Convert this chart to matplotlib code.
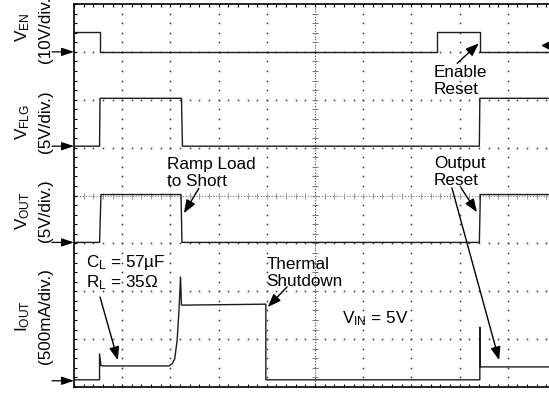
import numpy as np
import matplotlib

matplotlib.use("Agg")
import matplotlib.pyplot as plt

plt.rcParams["font.family"] = ["Liberation Sans", "DejaVu Sans"]
plt.rcParams["mathtext.fontset"] = "custom"
plt.rcParams["mathtext.rm"] = "Liberation Sans"
plt.rcParams["mathtext.it"] = "Liberation Sans"

# scope screen: 10 horizontal x 8 vertical divisions
N_XDIV, N_YDIV = 10, 8

# channel ground levels (divisions from bottom of the screen) and scales
VEN_GND, VEN_SCALE = 7.0, 10.0      # V/div
VFLG_GND, VFLG_SCALE = 5.03, 5.0    # V/div
VOUT_GND, VOUT_SCALE = 3.02, 5.0    # V/div
IOUT_GND, IOUT_SCALE = 0.13, 500.0  # mA/div

# traces, time in divisions
VEN_T = [0, 0.54, 0.54, 7.54, 7.54, 8.42, 8.42, 10]
VEN_V = [4.2, 4.2, 0, 0, 4.2, 4.2, 0, 0]

VFLG_T = [0, 0.53, 0.54, 2.23, 2.25, 8.41, 8.42, 10]
VFLG_V = [0, 0, 5, 5, 0, 0, 5, 5]

VOUT_T = [0, 0.53, 0.56, 2.22, 2.24, 8.41, 8.43, 10]
VOUT_V = [0, 0, 5, 5, 0, 0, 5, 5]

IOUT_T = [0, 0.53, 0.53, 0.56, 0.60, 1.97, 2.04, 2.09, 2.14, 2.18, 2.21,
          2.23, 3.98, 3.98, 8.42, 8.42, 8.43, 10]
IOUT_I = [10, 10, 280, 160, 155, 155, 180, 230, 425, 750, 1085,
          790, 800, 10, 10, 560, 145, 145]

TRACE = "#1c1c1c"
FS = 12.3
LINE_GAP = 0.355  # baseline-to-baseline spacing of two-line notes, in divisions


def to_screen(values, gnd, scale):
    return gnd + np.asarray(values, dtype=float) / scale


def note(ax, x, y, lines):
    for i, line in enumerate(lines):
        ax.text(x, y - i * LINE_GAP, line, fontsize=FS, ha="left", va="baseline")


fig = plt.figure(figsize=(5.49, 3.93), dpi=100)
ax = fig.add_axes([74 / 549, 6 / 393, 482 / 549, 383 / 393])
ax.set_xlim(0, N_XDIV)
ax.set_ylim(0, N_YDIV)

# graticule: dotted divisions, ticked centre lines
fine = np.arange(0, N_XDIV + 0.01, 0.2)
fine_y = np.arange(0, N_YDIV + 0.01, 0.2)
for gx in range(1, N_XDIV):
    if gx == 5:
        continue
    ax.plot(np.full_like(fine_y, gx), fine_y, ls="none", marker="s", ms=1.1,
            mew=0, color="#333333", zorder=1)
for gy in range(1, N_YDIV):
    if gy == 4:
        continue
    ax.plot(fine, np.full_like(fine, gy), ls="none", marker="s", ms=1.1,
            mew=0, color="#333333", zorder=1)
ax.axvline(5, ls=(0, (1, 1.5)), lw=0.8, color="#444444", zorder=1)
ax.axhline(4, ls=(0, (1, 1.5)), lw=0.8, color="#777777", zorder=1)
ax.plot(np.full_like(fine_y, 5), fine_y, ls="none", marker="_", ms=5,
        mew=0.7, color="#777777", zorder=1)
ax.plot(fine, np.full_like(fine, 4), ls="none", marker="|", ms=5,
        mew=0.7, color="#999999", zorder=1)

ax.set_xticks(fine, minor=True)
ax.set_yticks(fine_y, minor=True)
ax.set_xticks([])
ax.set_yticks([])
ax.tick_params(which="minor", direction="in", length=2.5, width=0.8,
               top=True, bottom=True, left=True, right=False,
               labelbottom=False, labelleft=False)
for side in ("left", "top", "bottom"):
    ax.spines[side].set_linewidth(1.2)
ax.spines["right"].set_visible(False)

# the four channels
ax.plot(VEN_T, to_screen(VEN_V, VEN_GND, VEN_SCALE), color=TRACE, lw=1.0, zorder=3)
ax.plot(VFLG_T, to_screen(VFLG_V, VFLG_GND, VFLG_SCALE), color=TRACE, lw=1.0, zorder=3)
ax.plot(VOUT_T, to_screen(VOUT_V, VOUT_GND, VOUT_SCALE), color=TRACE, lw=1.0, zorder=3)
ax.plot(IOUT_T, to_screen(IOUT_I, IOUT_GND, IOUT_SCALE), color=TRACE, lw=1.0, zorder=3)

# ground markers on the left edge
for gnd in (VEN_GND, VFLG_GND, VOUT_GND, IOUT_GND):
    ax.annotate("", xy=(0, gnd), xytext=(-22, 0), textcoords="offset pixels",
                annotation_clip=False,
                arrowprops=dict(arrowstyle="-|>,head_length=0.75,head_width=0.25",
                                mutation_scale=10, lw=0.9, color="black",
                                shrinkA=0, shrinkB=0))

# trigger level marker
ax.plot([9.83], [7.14], marker="<", ms=8, color="black", clip_on=False, zorder=4)

# channel labels
labels = [
    (r"$\mathregular{V_{EN}}$", "(10V/div.)", 27),
    (r"$\mathregular{V_{FLG}}$", "(5V/div.)", 122),
    (r"$\mathregular{V_{OUT}}$", "(5V/div.)", 211),
    (r"$\mathregular{I_{OUT}}$", "(500mA/div.)", 316),
]
for name, scale, ypx in labels:
    fig.text(27 / 549, 1 - ypx / 393, name, rotation=90, rotation_mode="anchor",
             ha="center", va="baseline", fontsize=FS)
    fig.text(50 / 549, 1 - ypx / 393, scale, rotation=90, rotation_mode="anchor",
             ha="center", va="baseline", fontsize=FS)

ARROW = dict(arrowstyle="-|>,head_length=0.8,head_width=0.3", mutation_scale=10,
             lw=1.0, color="black", shrinkA=0, shrinkB=0)

note(ax, 7.46, 6.47, ["Enable", "Reset"])
ax.annotate("", xy=(8.40, 7.18), xytext=(7.95, 6.76), arrowprops=ARROW)

note(ax, 1.92, 4.55, ["Ramp Load", "to Short"])
ax.annotate("", xy=(2.28, 3.63), xytext=(2.59, 4.15), arrowprops=ARROW)

note(ax, 7.47, 4.58, ["Output", "Reset"])
ax.annotate("", xy=(8.36, 3.65), xytext=(8.03, 4.16), arrowprops=ARROW)
ax.annotate("", xy=(8.82, 0.56), xytext=(7.84, 4.16), arrowprops=ARROW)

note(ax, 3.99, 2.46, ["Thermal", "Shutdown"])
ax.annotate("", xy=(4.02, 1.67), xytext=(4.42, 2.09), arrowprops=ARROW)

ax.text(5.55, 1.34, r"$\mathregular{V_{IN}}$ = 5V", fontsize=FS, ha="left",
        va="baseline")

ax.text(0.24, 2.50, r"$\mathregular{C_L}$ = 57µF", fontsize=FS, ha="left",
        va="baseline")
ax.text(0.24, 2.08, r"$\mathregular{R_L}$ = 35Ω", fontsize=FS, ha="left",
        va="baseline")
ax.annotate("", xy=(0.91, 0.56), xytext=(0.54, 1.88), arrowprops=ARROW)

fig.savefig("out.png", dpi=100)
